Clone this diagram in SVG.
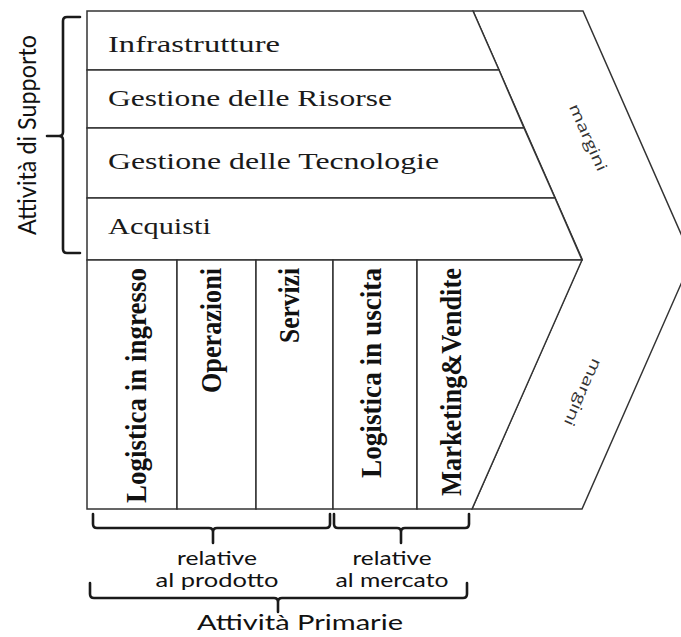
<svg xmlns="http://www.w3.org/2000/svg" width="681" height="637" viewBox="0 0 681 637">
  <style>
    .box { fill: #ffffff; stroke: #333333; stroke-width: 1.5; stroke-linejoin: miter; }
    .brace { fill: none; stroke: #1a1a1a; stroke-width: 2.6; stroke-linecap: round; stroke-linejoin: round; }
    .sup { font-family: "Liberation Serif", "Times New Roman", serif; font-size: 23px; fill: #1a1a1a; }
    .pri { font-family: "Liberation Serif", "Times New Roman", serif; font-size: 29px; font-weight: bold; fill: #111111; }
    .hand { font-family: "Lato", "Open Sans", sans-serif; fill: #111111; }
    .marg { font-family: "Open Sans", "Lato", sans-serif; font-size: 15px; fill: #333333; }
  </style>
  <rect x="0" y="0" width="681" height="637" fill="#ffffff"/>

  <!-- margin band (chevron) -->
  <g id="margini">
    <polygon class="box" points="473,11 583,11 692,259 582,509 472,509 582,259"/>
    <text class="marg" transform="translate(587,138) rotate(66)" text-anchor="middle" dominant-baseline="middle" textLength="72" lengthAdjust="spacingAndGlyphs">margini</text>
    <text class="marg" transform="translate(582,392) rotate(114)" text-anchor="middle" dominant-baseline="middle" textLength="72" lengthAdjust="spacingAndGlyphs">margini</text>
  </g>

  <!-- support activities -->
  <g id="infrastrutture">
    <polygon class="box" points="87,11 473,11 499,70 87,70"/>
    <text class="sup" x="108" y="52" textLength="172" lengthAdjust="spacingAndGlyphs">Infrastrutture</text>
  </g>
  <g id="gestione-risorse">
    <polygon class="box" points="87,70 499,70 524,128 87,128"/>
    <text class="sup" x="108" y="106" textLength="284" lengthAdjust="spacingAndGlyphs">Gestione delle Risorse</text>
  </g>
  <g id="gestione-tecnologie">
    <polygon class="box" points="87,128 524,128 555,198 87,198"/>
    <text class="sup" x="108" y="169" textLength="331" lengthAdjust="spacingAndGlyphs">Gestione delle Tecnologie</text>
  </g>
  <g id="acquisti">
    <polygon class="box" points="87,198 555,198 582,260 87,260"/>
    <text class="sup" x="108" y="234" textLength="103" lengthAdjust="spacingAndGlyphs">Acquisti</text>
  </g>

  <!-- primary activities -->
  <g id="logistica-ingresso">
    <rect class="box" x="87" y="260" width="90" height="249"/>
    <text class="pri" transform="translate(146,503) rotate(-90)" textLength="235" lengthAdjust="spacingAndGlyphs">Logistica in ingresso</text>
  </g>
  <g id="operazioni">
    <rect class="box" x="177" y="260" width="79" height="249"/>
    <text class="pri" transform="translate(221,393) rotate(-90)" textLength="125" lengthAdjust="spacingAndGlyphs">Operazioni</text>
  </g>
  <g id="servizi">
    <rect class="box" x="256" y="260" width="77" height="249"/>
    <text class="pri" transform="translate(299,343) rotate(-90)" textLength="75" lengthAdjust="spacingAndGlyphs">Servizi</text>
  </g>
  <g id="logistica-uscita">
    <rect class="box" x="333" y="260" width="84" height="249"/>
    <text class="pri" transform="translate(381,478) rotate(-90)" textLength="210" lengthAdjust="spacingAndGlyphs">Logistica in uscita</text>
  </g>
  <g id="marketing-vendite">
    <polygon class="box" points="417,260 582,260 472,509 417,509"/>
    <text class="pri" transform="translate(461,496) rotate(-90)" textLength="228" lengthAdjust="spacingAndGlyphs">Marketing&amp;Vendite</text>
  </g>

  <!-- grouping braces -->
  <g id="braces">
    <path class="brace" d="M80,17 H67 Q63,17 63,21 V132 Q63,136 59,136 H47 M59,136 Q63,136 63,140 V249 Q63,253 67,253 H80"/>
    <path class="brace" d="M93,514 V524 Q93,528 97,528 H209 Q213,528 213,532 V543 M217,528 Q213,528 213,532 M217,528 H326 Q330,528 330,524 V514"/>
    <path class="brace" d="M334,514 V524 Q334,528 338,528 H397 Q401,528 401,532 V543 M405,528 Q401,528 401,532 M405,528 H465 Q469,528 469,524 V514"/>
    <path class="brace" d="M90,583 V594 Q90,598 94,598 H274 Q278,598 278,602 V612 M282,598 Q278,598 278,602 M282,598 H463 Q467,598 467,594 V583"/>
  </g>

  <!-- group labels -->
  <g id="etichette">
    <text class="hand" transform="translate(36,235) rotate(-90)" font-size="25" textLength="200" lengthAdjust="spacingAndGlyphs">Attività di Supporto</text>
    <text class="hand" x="217" y="565" font-size="20" text-anchor="middle" textLength="80" lengthAdjust="spacingAndGlyphs">relative</text>
    <text class="hand" x="217" y="587" font-size="20" text-anchor="middle" textLength="123" lengthAdjust="spacingAndGlyphs">al prodotto</text>
    <text class="hand" x="392" y="565" font-size="20" text-anchor="middle" textLength="79" lengthAdjust="spacingAndGlyphs">relative</text>
    <text class="hand" x="392" y="587" font-size="20" text-anchor="middle" textLength="113" lengthAdjust="spacingAndGlyphs">al mercato</text>
    <text class="hand" x="300" y="630" font-size="22" text-anchor="middle" textLength="206" lengthAdjust="spacingAndGlyphs">Attività Primarie</text>
  </g>
</svg>
